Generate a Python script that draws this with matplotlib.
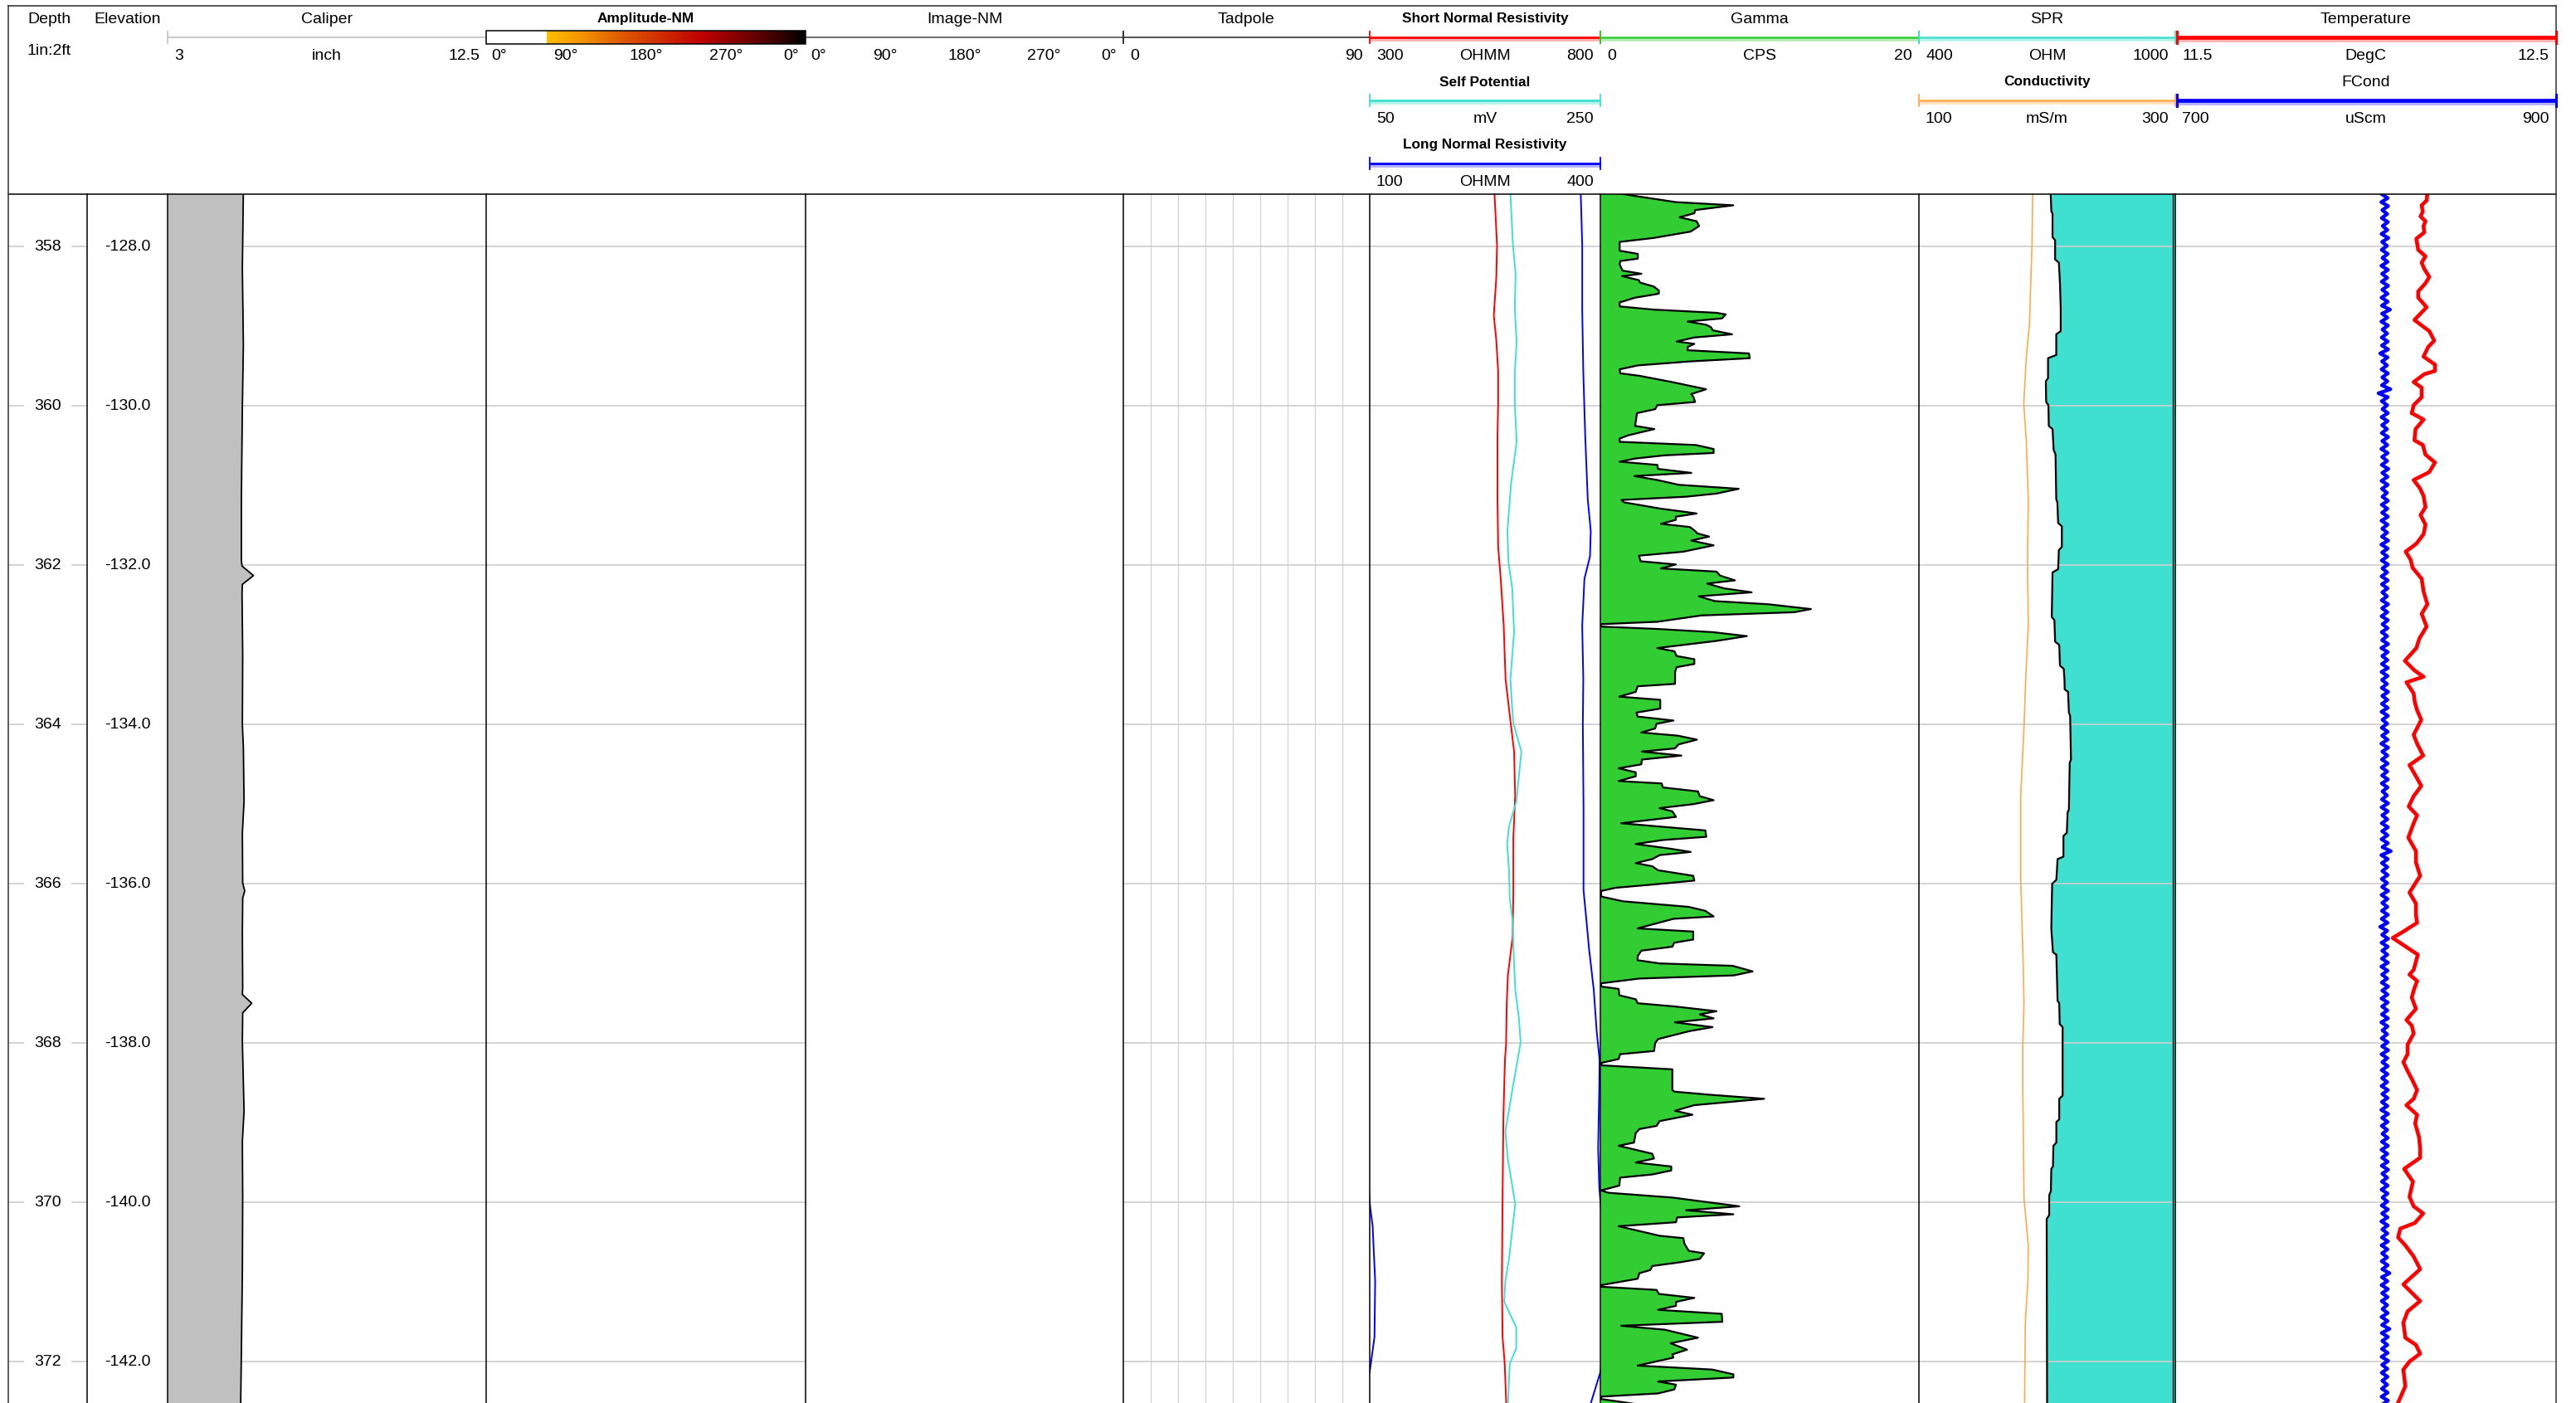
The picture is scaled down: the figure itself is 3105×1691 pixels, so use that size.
import numpy as np
import matplotlib
matplotlib.use("Agg")
import matplotlib.pyplot as plt
from matplotlib.colors import LinearSegmentedColormap
from matplotlib.patches import Rectangle

plt.rcParams['font.family'] = ['Liberation Sans', 'DejaVu Sans']

W, H, DPI = 3105, 1691, 100
HDR = 234                      # header bottom (px)
TOP_DEPTH, BASE_DEPTH = 357.34, 372.52
KB_ELEV = 230.0                # elevation = KB_ELEV - depth

# ---------------------------------------------------------------- data
grid_depths = [358, 360, 362, 364, 366, 368, 370, 372]

caliper_depth = [357.30, 358.27, 359.24, 360.02, 361.18, 361.94, 362.01, 362.13,
                 362.24, 362.35, 363.13, 364.00, 364.29, 364.97, 365.36, 365.99,
                 366.09, 366.18, 366.62, 367.30, 367.39, 367.50, 367.62, 367.98,
                 368.85, 369.24, 369.92, 370.89, 372.55]
caliper_in = [5.26, 5.23, 5.26, 5.23, 5.20, 5.20, 5.22, 5.56,
              5.23, 5.22, 5.24, 5.23, 5.26, 5.28, 5.23, 5.24,
              5.30, 5.24, 5.23, 5.24, 5.23, 5.51, 5.24, 5.23,
              5.28, 5.23, 5.24, 5.23, 5.18]

snr_depth = [357.33, 357.98, 358.38, 358.86, 359.18, 359.57, 359.97, 360.37, 361.17,
             361.77, 362.17, 362.76, 363.43, 363.99, 364.34, 364.90, 365.42, 366.11,
             366.67, 367.15, 367.50, 368.02, 368.21, 368.90, 369.95, 370.99, 371.69,
             372.03, 372.55]
snr_ohmm = [570.5, 576.0, 574.5, 569.0, 574.5, 578.5, 578.5, 577.0, 577.0,
            578.5, 584.0, 590.5, 594.5, 605.8, 613.0, 615.3, 611.4, 611.4,
            609.8, 599.5, 597.1, 595.6, 593.2, 589.9, 588.0, 586.5, 588.0,
            592.7, 596.1]

sp_depth = [357.33, 357.98, 358.34, 358.78, 359.20, 359.57, 359.97, 360.45, 360.97,
            361.57, 361.97, 362.29, 362.84, 363.43, 363.68, 363.99, 364.34, 364.97,
            365.28, 365.50, 365.83, 366.18, 366.46, 366.81, 367.33, 367.68, 367.99,
            368.56, 369.11, 369.46, 370.02, 370.30, 370.71, 370.99, 371.25, 371.57,
            371.83, 372.03, 372.55]
sp_mv = [172.0, 174.2, 176.5, 175.8, 177.4, 175.8, 175.8, 177.4, 172.6,
         169.4, 170.4, 173.6, 175.2, 172.0, 173.0, 174.6, 181.5, 177.1,
         170.8, 169.2, 170.8, 171.4, 173.9, 174.6, 176.2, 179.3, 180.9,
         174.0, 167.6, 169.8, 176.2, 174.0, 170.8, 167.6, 166.6, 177.1,
         177.1, 171.4, 169.8]

lnr_depth = [357.33, 357.98, 358.78, 359.57, 360.37, 361.17, 361.57, 361.89, 362.17,
             362.76, 363.43, 363.99, 365.07, 366.08, 366.46, 366.81, 367.33, 367.85,
             368.21, 368.56, 369.32, 369.81, 370.05, 370.30, 370.99, 371.69, 372.03,
             372.14, 372.55]
lnr_ohmm = [374.5, 376.4, 376.4, 377.8, 380.3, 383.6, 387.5, 386.5, 379.3,
            376.4, 377.8, 377.2, 378.1, 378.1, 381.9, 385.2, 391.4, 395.2,
            399.0, 398.6, 397.1, 398.6, 400.5, 403.8, 407.1, 406.2, 401.4,
            399.8, 386.7]

gamma_depth = [
    357.33, 357.36, 357.44, 357.48, 357.54, 357.58, 357.63, 357.68, 357.74, 357.78,
    357.81, 357.89, 357.94, 358.05, 358.09, 358.15, 358.18, 358.22, 358.30, 358.34,
    358.37, 358.42, 358.45, 358.50, 358.55, 358.59, 358.64, 358.70, 358.75, 358.79,
    358.83, 358.85, 358.90, 358.94, 358.98, 359.01, 359.05, 359.10, 359.14, 359.19,
    359.22, 359.26, 359.30, 359.34, 359.40, 359.44, 359.49, 359.54, 359.59, 359.62,
    359.70, 359.79, 359.85, 359.89, 359.95, 359.99, 360.04, 360.09, 360.25, 360.29,
    360.37, 360.41, 360.45, 360.47, 360.49, 360.54, 360.59, 360.62, 360.66, 360.70,
    360.74, 360.79, 360.84, 360.88, 360.93, 360.99, 361.04, 361.10, 361.14, 361.18,
    361.21, 361.29, 361.33, 361.35, 361.39, 361.43, 361.48, 361.52, 361.57, 361.60,
    361.64, 361.69, 361.75, 361.83, 361.88, 361.95, 361.99, 362.04, 362.08, 362.13,
    362.19, 362.23, 362.29, 362.34, 362.39, 362.45, 362.49, 362.55, 362.59, 362.63,
    362.71, 362.74, 362.77, 362.80, 362.84, 362.89, 362.95, 363.04, 363.08, 363.14,
    363.18, 363.24, 363.28, 363.34, 363.44, 363.49, 363.52, 363.59, 363.65, 363.69,
    363.80, 363.85, 363.90, 363.95, 363.99, 364.05, 364.10, 364.14, 364.19, 364.25,
    364.30, 364.34, 364.39, 364.44, 364.50, 364.55, 364.60, 364.65, 364.71, 364.74,
    364.79, 364.84, 364.90, 364.95, 365.00, 365.05, 365.09, 365.16, 365.24, 365.33,
    365.41, 365.45, 365.50, 365.56, 365.60, 365.64, 365.69, 365.74, 365.78, 365.83,
    365.90, 365.96, 366.01, 366.05, 366.09, 366.16, 366.22, 366.29, 366.34, 366.41,
    366.44, 366.56, 366.60, 366.70, 366.74, 366.79, 366.84, 366.91, 366.96, 367.00,
    367.03, 367.10, 367.15, 367.19, 367.25, 367.29, 367.32, 367.40, 367.45, 367.50,
    367.54, 367.60, 367.64, 367.69, 367.74, 367.80, 367.85, 367.95, 368.00, 368.10,
    368.14, 368.20, 368.25, 368.28, 368.33, 368.59, 368.61, 368.65, 368.70, 368.78,
    368.85, 368.90, 368.98, 369.04, 369.08, 369.13, 369.25, 369.29, 369.39, 369.45,
    369.50, 369.55, 369.60, 369.65, 369.69, 369.79, 369.85, 369.88, 369.94, 370.05,
    370.10, 370.15, 370.19, 370.25, 370.30, 370.42, 370.45, 370.52, 370.61, 370.64,
    370.71, 370.75, 370.80, 370.85, 370.89, 370.96, 371.04, 371.06, 371.10, 371.15,
    371.20, 371.25, 371.30, 371.35, 371.40, 371.50, 371.55, 371.60, 371.70, 371.77,
    371.85, 371.91, 371.95, 372.05, 372.10, 372.16, 372.20, 372.25, 372.29, 372.35,
    372.40, 372.44, 372.47, 372.53]
gamma_cps = [
    1.16, 2.09, 4.74, 8.34, 5.95, 5.90, 4.97, 6.04, 6.20, 5.90,
    5.67, 3.35, 1.21, 1.21, 2.35, 2.35, 1.25, 1.21, 1.39, 2.58,
    1.37, 2.42, 2.49, 3.35, 3.67, 3.67, 2.18, 1.21, 1.21, 3.35,
    7.29, 7.87, 7.64, 5.48, 6.64, 6.94, 7.06, 8.27, 5.90, 4.79,
    5.90, 5.48, 5.48, 9.33, 9.38, 5.67, 2.37, 1.21, 1.25, 2.42,
    4.51, 6.64, 5.71, 5.85, 5.95, 3.58, 3.44, 2.30, 2.18, 3.39,
    1.72, 1.21, 1.21, 3.58, 5.99, 7.11, 7.11, 4.03, 2.18, 1.21,
    3.58, 3.62, 5.71, 2.14, 3.58, 4.93, 8.69, 7.29, 5.34, 1.32,
    1.49, 3.81, 5.34, 6.04, 4.74, 4.74, 3.81, 5.62, 5.95, 6.09,
    6.83, 5.71, 7.11, 5.20, 2.42, 2.53, 4.74, 3.81, 7.29, 7.52,
    8.45, 6.71, 7.76, 9.50, 6.18, 7.18, 10.55, 13.22, 12.17, 6.36,
    3.58, 0.02, 0.02, 3.58, 7.06, 9.20, 7.29, 3.58, 4.65, 4.79,
    5.90, 5.90, 4.79, 4.69, 4.69, 4.68, 2.34, 2.22, 1.19, 3.76,
    3.76, 2.27, 2.34, 4.59, 3.53, 3.44, 2.57, 4.86, 6.06, 4.91,
    4.68, 2.61, 5.09, 2.61, 2.57, 1.15, 2.22, 2.22, 1.15, 3.85,
    3.92, 6.13, 6.24, 7.11, 5.83, 3.72, 4.52, 4.75, 1.31, 6.59,
    6.65, 3.94, 2.22, 4.41, 5.67, 3.72, 3.26, 2.22, 3.26, 3.62,
    5.83, 5.90, 3.26, 0.96, 0.05, 0.05, 1.42, 5.55, 6.59, 7.11,
    4.59, 2.34, 5.83, 5.83, 4.64, 4.52, 2.57, 2.34, 2.34, 3.72,
    8.30, 9.56, 8.39, 2.45, 0.05, 0.05, 1.15, 1.19, 2.22, 2.34,
    4.64, 7.29, 6.24, 7.11, 4.68, 7.04, 5.60, 3.62, 3.44, 3.37,
    1.24, 1.15, 0.05, 0.09, 4.52, 4.52, 4.64, 6.93, 10.28, 5.90,
    4.68, 5.78, 3.72, 3.53, 2.45, 2.22, 2.11, 1.15, 3.26, 3.37,
    2.22, 4.45, 4.45, 3.26, 1.24, 1.19, 0.05, 0.50, 4.52, 8.72,
    5.39, 8.35, 4.82, 4.75, 1.15, 3.72, 5.21, 5.28, 5.55, 6.51,
    6.24, 5.09, 3.26, 3.14, 2.45, 2.34, 0.05, 0.05, 3.53, 3.67,
    5.90, 4.75, 4.75, 3.62, 7.62, 7.66, 1.31, 4.06, 6.13, 4.41,
    5.44, 4.52, 4.59, 2.34, 7.02, 8.35, 8.35, 3.62, 4.75, 4.64,
    3.62, 0.05, 0.05, 2.11]

spr_depth = [357.33, 357.56, 357.58, 357.88, 357.92, 358.16, 358.20, 358.46, 358.78, 359.06,
             359.10, 359.36, 359.40, 359.65, 359.69, 359.95, 359.99, 360.25, 360.29, 360.55,
             360.61, 361.17, 361.21, 361.47, 361.51, 361.77, 361.81, 362.05, 362.09, 362.65,
             362.69, 362.96, 363.00, 363.26, 363.30, 363.43, 363.56, 363.59, 363.85, 363.89,
             364.44, 364.48, 365.07, 365.10, 365.36, 365.40, 365.66, 365.69, 365.95, 366.00,
             366.56, 366.86, 366.89, 367.47, 367.50, 367.76, 367.80, 368.66, 368.70, 368.96,
             368.99, 369.25, 369.29, 369.55, 369.58, 369.86, 369.91, 370.16, 370.21, 372.55]
spr_ohm = [708.3, 710.0, 712.7, 712.7, 718.8, 718.8, 727.5, 730.1, 731.9, 731.9,
           721.4, 721.4, 702.2, 702.2, 697.0, 697.8, 703.1, 703.9, 712.7, 715.3,
           719.7, 721.4, 724.0, 725.8, 734.5, 734.5, 727.5, 725.8, 712.7, 710.9,
           717.1, 718.8, 728.4, 730.1, 738.9, 740.6, 741.2, 749.0, 751.0, 753.9,
           755.9, 752.9, 751.0, 748.0, 746.1, 738.2, 738.2, 724.5, 721.6, 711.8,
           709.8, 713.7, 721.6, 724.5, 728.4, 729.4, 736.3, 736.3, 728.4, 728.4,
           721.6, 721.6, 714.7, 713.7, 709.8, 708.8, 704.9, 704.9, 699.0, 700.0]

cond_depth = [357.33, 357.98, 358.98, 359.38, 359.97, 360.45, 361.17, 361.97, 362.76, 363.43,
              364.03, 364.90, 365.94, 366.81, 367.50, 368.02, 368.56, 369.95, 370.54, 370.99,
              371.51, 372.55]
cond_msm = [188.8, 188.2, 186.2, 183.8, 181.8, 183.8, 185.3, 184.7, 185.3, 183.3,
            182.0, 179.4, 179.4, 181.0, 182.0, 181.0, 181.0, 182.0, 185.3, 185.0,
            183.0, 182.4]

temp_depth = [
    357.33, 357.42, 357.48, 357.56, 357.62, 357.68, 357.74, 357.82, 357.90, 358.04,
    358.12, 358.20, 358.28, 358.38, 358.46, 358.56, 358.64, 358.76, 358.92, 359.06,
    359.18, 359.26, 359.38, 359.48, 359.56, 359.60, 359.70, 359.77, 359.89, 359.99,
    360.09, 360.17, 360.29, 360.43, 360.49, 360.61, 360.71, 360.83, 360.93, 361.03,
    361.13, 361.27, 361.37, 361.49, 361.61, 361.73, 361.83, 361.93, 362.03, 362.17,
    362.33, 362.49, 362.61, 362.77, 362.92, 363.04, 363.20, 363.32, 363.40, 363.47,
    363.61, 363.72, 363.82, 363.94, 364.13, 364.24, 364.39, 364.51, 364.60, 364.77,
    364.90, 365.03, 365.14, 365.24, 365.42, 365.59, 365.73, 365.90, 366.11, 366.25,
    366.39, 366.49, 366.60, 366.68, 366.75, 366.89, 367.08, 367.14, 367.22, 367.34,
    367.43, 367.57, 367.71, 367.78, 367.88, 368.02, 368.14, 368.24, 368.35, 368.45,
    368.59, 368.70, 368.78, 368.90, 369.01, 369.18, 369.32, 369.44, 369.58, 369.74,
    369.93, 370.05, 370.14, 370.26, 370.33, 370.44, 370.54, 370.68, 370.84, 371.03,
    371.24, 371.37, 371.51, 371.70, 371.79, 371.90, 372.00, 372.10, 372.31, 372.55]
temp_degc = [
    12.162, 12.160, 12.147, 12.150, 12.144, 12.157, 12.152, 12.154, 12.133, 12.138,
    12.157, 12.147, 12.154, 12.167, 12.157, 12.138, 12.138, 12.160, 12.128, 12.167,
    12.180, 12.164, 12.152, 12.182, 12.182, 12.154, 12.126, 12.147, 12.147, 12.126,
    12.121, 12.152, 12.131, 12.128, 12.150, 12.157, 12.182, 12.167, 12.126, 12.142,
    12.152, 12.157, 12.144, 12.157, 12.152, 12.133, 12.105, 12.118, 12.123, 12.147,
    12.152, 12.162, 12.147, 12.160, 12.141, 12.133, 12.103, 12.128, 12.152, 12.107,
    12.126, 12.129, 12.135, 12.146, 12.126, 12.135, 12.151, 12.115, 12.126, 12.146,
    12.126, 12.113, 12.135, 12.126, 12.112, 12.132, 12.132, 12.143, 12.115, 12.132,
    12.132, 12.135, 12.099, 12.071, 12.093, 12.137, 12.126, 12.115, 12.135, 12.126,
    12.121, 12.132, 12.107, 12.121, 12.126, 12.110, 12.110, 12.099, 12.110, 12.121,
    12.135, 12.126, 12.107, 12.135, 12.130, 12.140, 12.143, 12.143, 12.101, 12.124,
    12.115, 12.126, 12.151, 12.129, 12.091, 12.085, 12.104, 12.126, 12.143, 12.099,
    12.143, 12.110, 12.099, 12.104, 12.132, 12.143, 12.115, 12.099, 12.104, 12.082]

# fluid conductivity, sampled every 0.05 ft from the top of the interval
fcond_step = 0.05
fcond_uscm = [
    808.5, 811.6, 808.2, 811.8, 808.7, 811.3, 808.4, 811.7, 808.9, 811.4,
    808.3, 811.9, 808.6, 811.2, 808.4, 811.6, 808.8, 811.5, 808.2, 811.7,
    808.6, 811.3, 808.4, 811.8, 808.7, 811.5, 808.3, 811.6, 808.5, 812.8,
    808.6, 811.4, 808.2, 811.7, 808.8, 811.3, 808.4, 811.6, 808.5, 811.8,
    807.6, 811.5, 808.6, 811.2, 808.3, 811.7, 808.7, 811.4, 808.5, 813.0,
    806.7, 811.6, 808.4, 811.3, 808.8, 811.7, 808.3, 811.5, 808.6, 811.2,
    808.4, 811.8, 808.7, 811.4, 808.2, 811.6, 808.6, 811.3, 808.4, 811.9,
    808.7, 811.5, 808.3, 811.6, 808.5, 811.2, 808.8, 811.7, 808.4, 811.4,
    808.6, 811.7, 808.3, 811.5, 808.7, 811.3, 808.5, 811.8, 808.2, 811.6,
    808.6, 811.4, 808.4, 811.7, 808.8, 811.3, 808.3, 811.6, 808.5, 811.5,
    808.7, 811.2, 808.4, 811.8, 808.6, 811.4, 808.3, 811.7, 808.8, 811.5,
    808.4, 811.3, 808.6, 811.8, 808.2, 811.6, 808.7, 811.4, 808.5, 811.7,
    808.3, 811.5, 808.6, 811.2, 808.4, 811.8, 808.7, 811.4, 808.5, 811.6,
    808.3, 811.7, 808.8, 811.3, 808.4, 811.6, 808.6, 811.5, 808.2, 811.8,
    808.7, 811.4, 808.5, 811.6, 808.3, 811.3, 808.6, 811.7, 808.4, 811.5,
    808.8, 811.2, 808.5, 811.8, 808.3, 811.6, 808.7, 811.4, 808.4, 811.7,
    808.6, 811.5, 808.3, 811.7, 808.8, 813.2, 808.2, 811.6, 808.5, 811.4,
    808.7, 811.6, 808.4, 811.3, 808.6, 811.8, 808.3, 811.5, 808.7, 811.4,
    808.5, 811.7, 808.4, 811.5, 807.6, 811.3, 808.6, 811.8, 808.3, 811.6,
    808.7, 811.4, 808.5, 811.7, 808.2, 811.5, 808.6, 811.3, 808.4, 811.8,
    808.7, 811.5, 808.3, 811.6, 808.6, 811.4, 808.5, 811.7, 808.2, 811.5,
    808.8, 811.3, 808.4, 811.6, 808.6, 811.8, 808.3, 811.4, 808.7, 811.6,
    808.4, 811.5, 808.6, 811.3, 808.3, 811.7, 808.7, 811.5, 808.5, 811.4,
    808.2, 811.8, 808.6, 811.5, 808.4, 811.3, 808.8, 811.6, 808.5, 811.7,
    808.3, 811.4, 808.6, 811.6, 808.4, 811.8, 808.7, 811.3, 808.5, 811.6,
    808.3, 811.5, 808.8, 811.4, 808.4, 811.7, 808.6, 811.5, 808.2, 811.6,
    808.7, 811.4, 808.5, 811.7, 808.3, 811.5, 808.6, 811.3, 808.4, 811.6,
    808.7, 812.5, 808.5, 811.4, 808.3, 811.7, 808.6, 811.5, 808.4, 811.3,
    808.8, 811.6, 808.3, 811.5, 808.6, 812.5, 808.4, 811.7, 808.7, 811.4,
    808.5, 811.6, 808.3, 811.8, 808.6, 811.4, 808.4, 811.5, 808.7, 811.3,
    808.5, 811.6, 808.3, 811.7, 808.6]
fcond_depth = TOP_DEPTH + fcond_step * np.arange(len(fcond_uscm))

angle_labels = ["0°", "90°", "180°", "270°", "0°"]

# ---------------------------------------------------------------- layout
# track borders in pixels
X_FRAME_L, X_DEPTH_R, X_ELEV_R = 10, 105, 202
X_CAL_R, X_AMP_R, X_IMG_R, X_TAD_R = 586, 971, 1354, 1651
X_RES_R, X_GAM_R, X_SPR_R, X_FRAME_R = 1929, 2313, 2622, 3081
Y_FRAME_T = 7

FS, FS_B = 14, 12.4
GRID_C = '#CDCDCD'
CURVE_LW = 1.4

fig = plt.figure(figsize=(W / DPI, H / DPI), dpi=DPI)
fig.patch.set_facecolor('white')


def track_axes(x0, x1, xlim, z=1):
    ax = fig.add_axes([x0 / W, 0, (x1 - x0) / W, (H - HDR) / H])
    ax.set_xlim(*xlim)
    ax.set_ylim(BASE_DEPTH, TOP_DEPTH)
    ax.axis('off')
    ax.set_zorder(z)
    return ax


def depth_grid(ax, z=0.5):
    for d in grid_depths:
        ax.axhline(d, color=GRID_C, lw=1.2, zorder=z)


# depth column
ax_depth = track_axes(X_FRAME_L, X_DEPTH_R, (0, 1))
depth_grid(ax_depth)
for d in grid_depths:
    ax_depth.text(0.5, d, f"{d:d}", ha='center', va='center', fontsize=FS,
                  bbox=dict(facecolor='white', edgecolor='none', pad=8.5), zorder=3)

# elevation column
ax_elev = track_axes(X_DEPTH_R, X_ELEV_R, (0, 1))
for d in grid_depths:
    ax_elev.text(0.5, d, f"{KB_ELEV - d:.1f}", ha='center', va='center', fontsize=FS)

# caliper
ax_cal = track_axes(X_ELEV_R, X_CAL_R, (3, 12.5))
depth_grid(ax_cal)
ax_cal.fill_betweenx(caliper_depth, 3, caliper_in, color='#C0C0C0', lw=0, zorder=2)
ax_cal.plot(caliper_in, caliper_depth, color='black', lw=1.3, zorder=3)

# amplitude image (blank) and image-NM (blank)
ax_amp = track_axes(X_CAL_R, X_AMP_R, (0, 360))
depth_grid(ax_amp)
ax_img = track_axes(X_AMP_R, X_IMG_R, (0, 360))

# tadpole
ax_tad = track_axes(X_IMG_R, X_TAD_R, (0, 90))
depth_grid(ax_tad)
for v in range(10, 90, 10):
    ax_tad.axvline(v, color='#D3D3D3', lw=0.9, zorder=0.4)

# resistivity / SP
ax_snr = track_axes(X_TAD_R, X_RES_R, (300, 800), z=1)
depth_grid(ax_snr)
ax_snr.plot(snr_ohmm, snr_depth, color='red', lw=CURVE_LW, zorder=2)
ax_sp = track_axes(X_TAD_R, X_RES_R, (50, 250), z=2)
ax_sp.plot(sp_mv, sp_depth, color='#40E0D0', lw=CURVE_LW, zorder=2)
ax_lnr = track_axes(X_TAD_R, X_RES_R, (100, 400), z=3)
ax_lnr.plot(lnr_ohmm, lnr_depth, color='blue', lw=CURVE_LW, zorder=2)
ax_lnr_wrap = track_axes(X_TAD_R, X_RES_R, (400, 700), z=3)   # wrap-around
ax_lnr_wrap.plot(lnr_ohmm, lnr_depth, color='blue', lw=CURVE_LW, zorder=2)

# gamma
ax_gam = track_axes(X_RES_R, X_GAM_R, (0, 20))
depth_grid(ax_gam)
ax_gam.fill_betweenx(gamma_depth, 0, gamma_cps, color='#32CD32', lw=0, zorder=2)
ax_gam.plot(gamma_cps, gamma_depth, color='black', lw=1.6, zorder=3)

# SPR + conductivity
ax_spr = track_axes(X_GAM_R, X_SPR_R, (400, 1000), z=1)
ax_spr.fill_betweenx(spr_depth, spr_ohm, 1000, color='#40E0D0', lw=0, zorder=1)
depth_grid(ax_spr, z=2)
ax_spr.plot(spr_ohm, spr_depth, color='black', lw=1.6, zorder=3)
ax_cond = track_axes(X_GAM_R, X_SPR_R, (100, 300), z=2)
ax_cond.plot(cond_msm, cond_depth, color='#FFA94D', lw=1.2)

# temperature + fluid conductivity
ax_temp = track_axes(X_SPR_R, X_FRAME_R, (11.5, 12.5), z=2)
depth_grid(ax_temp)
ax_temp.plot(temp_degc, temp_depth, color='red', lw=3.3, solid_joinstyle='round', zorder=3)
ax_fc = track_axes(X_SPR_R, X_FRAME_R, (700, 900), z=3)
ax_fc.plot(fcond_uscm, fcond_depth, color='blue', lw=3.1, solid_joinstyle='round')

# ---------------------------------------------------------------- overlay (header + borders)
ov = fig.add_axes([0, 0, 1, 1])
ov.set_zorder(10)
ov.axis('off')

# frame and track separators
ov.plot([X_FRAME_L, X_FRAME_R], [Y_FRAME_T, Y_FRAME_T], color='#555555', lw=1.4)
ov.plot([X_FRAME_L, X_FRAME_R], [HDR, HDR], color='black', lw=1.1)
for x in (X_FRAME_L, X_FRAME_R):
    ov.plot([x, x], [Y_FRAME_T, H], color='#333333', lw=1.1)
for x in (X_DEPTH_R, X_ELEV_R, X_CAL_R, X_AMP_R, X_IMG_R, X_TAD_R, X_RES_R,
          X_GAM_R, X_SPR_R):
    ov.plot([x, x], [HDR, H], color='black', lw=1.1)
ov.plot([X_SPR_R - 3.5, X_SPR_R - 3.5], [HDR, H], color='black', lw=1.0)


def title(xc, y, s, bold=False):
    ov.text(xc, y, s, ha='center', va='center', fontsize=FS_B if bold else FS,
            fontweight='bold' if bold else 'normal')


def scale_labels(x0, x1, y, lo, unit, hi):
    ov.text(x0 + 8, y, lo, ha='left', va='center', fontsize=FS)
    if unit:
        ov.text((x0 + x1) / 2, y, unit, ha='center', va='center', fontsize=FS)
    ov.text(x1 - 8, y, hi, ha='right', va='center', fontsize=FS)


def scale_bar(x0, x1, y, color, lw, halo=None, ticks=(True, True), tick_lw=1.3):
    if halo:
        ov.plot([x0, x1], [y + 1.5, y + 1.5], color=halo, lw=lw + 1.6,
                solid_capstyle='butt')
    ov.plot([x0, x1], [y, y], color=color, lw=lw, solid_capstyle='butt')
    for x, t in zip((x0, x1), ticks):
        if t:
            ov.plot([x, x], [y - 7, y + 7], color=color, lw=tick_lw)


ROW1 = (23, 45, 68)
ROW2 = (99, 121, 144)
ROW3 = (174, 197, 220)

# depth / elevation
title((X_FRAME_L + X_DEPTH_R) / 2 + 2, 24, "Depth")
ov.text((X_FRAME_L + X_DEPTH_R) / 2 + 2, 61, "1in:2ft", ha='center', va='center', fontsize=FS)
title((X_DEPTH_R + X_ELEV_R) / 2, 24, "Elevation")

# caliper
title((X_ELEV_R + X_CAL_R) / 2, ROW1[0], "Caliper")
scale_bar(X_ELEV_R, X_CAL_R, ROW1[1], '#C8C8C8', 1.4, ticks=(True, False))
scale_labels(X_ELEV_R, X_CAL_R, ROW1[2], "3", "inch", "12.5")

# amplitude colour bar
amp_cmap = LinearSegmentedColormap.from_list(
    'amp', [(0.0, '#FFBF00'), (0.14, '#F39200'), (0.30, '#DD5500'),
            (0.60, '#C00000'), (0.85, '#500000'), (1.0, '#000000')])
title((X_CAL_R + X_AMP_R) / 2, ROW1[0], "Amplitude-NM", bold=True)
cb_y0, cb_y1 = 37, 53
cb_split = X_CAL_R + 0.19 * (X_AMP_R - X_CAL_R)
ov.imshow(np.linspace(0, 1, 256)[None, :], cmap=amp_cmap, aspect='auto',
          extent=[cb_split, X_AMP_R, cb_y1, cb_y0], zorder=2, interpolation='bilinear')
ov.add_patch(Rectangle((X_CAL_R, cb_y0), X_AMP_R - X_CAL_R, cb_y1 - cb_y0,
                       facecolor='none', edgecolor='black', lw=1.1, zorder=3))
ov.plot([cb_split, cb_split], [cb_y0, cb_y1], color='#FFBF00', lw=0.6, zorder=2.5)


def angle_scale(x0, x1, y):
    n = len(angle_labels) - 1
    for i, s in enumerate(angle_labels):
        if i == 0:
            ov.text(x0 + 6, y, s, ha='left', va='center', fontsize=FS)
        elif i == n:
            ov.text(x1 - 8, y, s, ha='right', va='center', fontsize=FS)
        else:
            ov.text(x0 + (x1 - x0) * i / n, y, s, ha='center', va='center', fontsize=FS)


angle_scale(X_CAL_R, X_AMP_R, ROW1[2])

# image-NM
title((X_AMP_R + X_IMG_R) / 2, ROW1[0], "Image-NM")
scale_bar(X_AMP_R, X_IMG_R, ROW1[1], '#444444', 1.1, ticks=(False, False))
angle_scale(X_AMP_R, X_IMG_R, ROW1[2])

# tadpole
title((X_IMG_R + X_TAD_R) / 2, ROW1[0], "Tadpole")
scale_bar(X_IMG_R, X_TAD_R, ROW1[1], '#222222', 1.1, ticks=(True, False))
scale_labels(X_IMG_R, X_TAD_R, ROW1[2], "0", "", "90")

# resistivity / SP
xc = (X_TAD_R + X_RES_R) / 2
title(xc, ROW1[0], "Short Normal Resistivity", bold=True)
scale_bar(X_TAD_R, X_RES_R, ROW1[1], 'red', 2.0, halo='#FFB3B3')
scale_labels(X_TAD_R, X_RES_R, ROW1[2], "300", "OHMM", "800")
title(xc, ROW2[0], "Self Potential", bold=True)
scale_bar(X_TAD_R, X_RES_R, ROW2[1], '#40E0D0', 2.0, halo='#B8F3EC')
scale_labels(X_TAD_R, X_RES_R, ROW2[2], "50", "mV", "250")
title(xc, ROW3[0], "Long Normal Resistivity", bold=True)
scale_bar(X_TAD_R, X_RES_R, ROW3[1], 'blue', 2.0, halo='#B3B3FF')
scale_labels(X_TAD_R, X_RES_R, ROW3[2], "100", "OHMM", "400")

# gamma
title((X_RES_R + X_GAM_R) / 2, ROW1[0], "Gamma")
scale_bar(X_RES_R, X_GAM_R, ROW1[1], '#32CD32', 1.8, halo='#B5EBB5')
scale_labels(X_RES_R, X_GAM_R, ROW1[2], "0", "CPS", "20")

# SPR / conductivity
xc = (X_GAM_R + X_SPR_R) / 2
title(xc, ROW1[0], "SPR")
scale_bar(X_GAM_R, X_SPR_R, ROW1[1], '#40E0D0', 1.8, halo='#B8F3EC')
scale_labels(X_GAM_R, X_SPR_R, ROW1[2], "400", "OHM", "1000")
title(xc, ROW2[0], "Conductivity", bold=True)
scale_bar(X_GAM_R, X_SPR_R, ROW2[1], '#FFA94D', 1.8, halo='#FFE0BF')
scale_labels(X_GAM_R, X_SPR_R, ROW2[2], "100", "mS/m", "300")

# temperature / fluid conductivity
xc = (X_SPR_R + X_FRAME_R) / 2
title(xc, ROW1[0], "Temperature")
scale_bar(X_SPR_R + 2, X_FRAME_R, ROW1[1], 'red', 3.4, halo='#FFB3B3', tick_lw=2.2)
scale_labels(X_SPR_R, X_FRAME_R, ROW1[2], "11.5", "DegC", "12.5")
title(xc, ROW2[0], "FCond")
scale_bar(X_SPR_R + 2, X_FRAME_R, ROW2[1], 'blue', 3.4, halo='#B3B3FF', tick_lw=2.2)
scale_labels(X_SPR_R, X_FRAME_R, ROW2[2], "700", "uScm", "900")

ov.set_xlim(0, W)
ov.set_ylim(H, 0)

fig.savefig("out.png", dpi=DPI)
